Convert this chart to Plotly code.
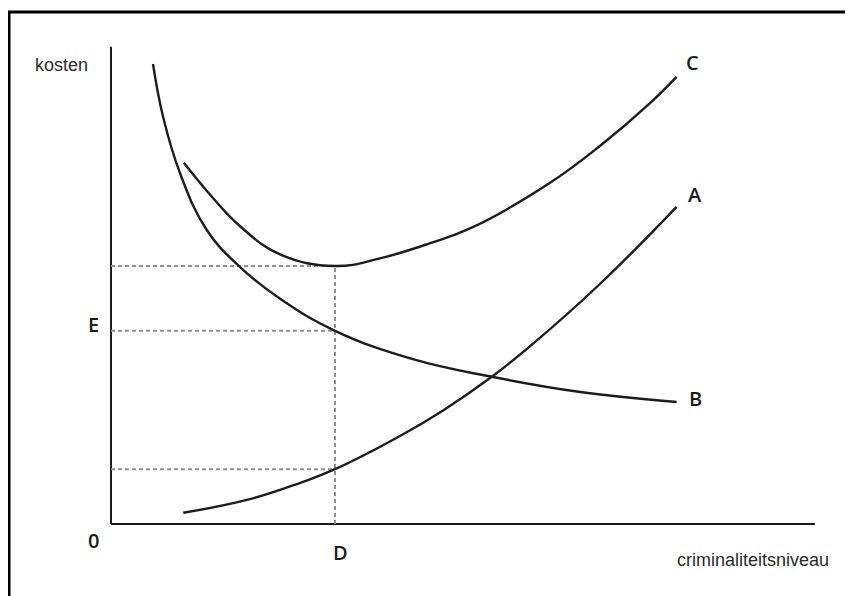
import plotly.graph_objects as go

# ---- data ----
# curve B: decreasing cost curve
B_x = [0.75, 0.93, 1.23, 1.71, 2.30, 3.02, 4.00, 5.39, 6.80, 8.38, 10.10]
B_y = [11.50, 10.18, 8.78, 7.35, 6.43, 5.63, 4.83, 4.12, 3.68, 3.30, 3.05]
# curve A: increasing cost curve
A_x = [1.29, 2.48, 3.38, 4.00, 5.16, 5.93, 6.80, 7.48, 8.73, 10.10]
A_y = [0.28, 0.62, 1.03, 1.37, 2.20, 2.84, 3.68, 4.44, 6.00, 7.93]
# curve C: total cost curve (U-shape)
C_x = [1.30, 1.82, 2.30, 3.02, 4.00, 4.80, 5.70, 6.46, 7.84, 8.73, 9.63, 10.10]
C_y = [9.03, 8.15, 7.45, 6.74, 6.45, 6.64, 7.02, 7.42, 8.53, 9.45, 10.53, 11.18]

D_x = 4.0                           # criminality level D
guide_levels = [6.45, 4.83, 1.37]   # C minimum, E (B at D), A at D

x_max = 12.57   # end of horizontal axis
y_max = 11.93   # top of vertical axis

curve_labels = ["C", "A", "B"]

fig = go.Figure()

ink = "#1c1c1c"
line_style = dict(color=ink, width=2.4, shape="spline", smoothing=1.2)
guide_style = dict(color="#8f8f8f", width=2, dash="4px,3px")

# axes drawn as lines from the origin
fig.add_trace(go.Scatter(x=[0, x_max], y=[0, 0], mode="lines",
                         line=dict(color=ink, width=2), hoverinfo="skip", showlegend=False))
fig.add_trace(go.Scatter(x=[0, 0], y=[0, y_max], mode="lines",
                         line=dict(color=ink, width=2), hoverinfo="skip", showlegend=False))

# dashed guide lines
for lv in guide_levels:
    fig.add_trace(go.Scatter(x=[0, D_x], y=[lv, lv], mode="lines", line=guide_style,
                             hoverinfo="skip", showlegend=False))
fig.add_trace(go.Scatter(x=[D_x, D_x], y=[0, max(guide_levels)], mode="lines",
                         line=guide_style, hoverinfo="skip", showlegend=False))

for xs, ys, nm in [(B_x, B_y, "B"), (A_x, A_y, "A"), (C_x, C_y, "C")]:
    fig.add_trace(go.Scatter(x=xs, y=ys, mode="lines", line=line_style,
                             name=nm, showlegend=False, hoverinfo="skip"))

lab_font = dict(family="Open Sans", size=20, color="#1a1a1a", weight=600)
narrow_font = dict(family="Liberation Sans Narrow, Liberation Sans, sans-serif",
                   size=18, color="#2a2a2a")

# end-of-curve labels
ends = {"C": (C_x[-1], C_y[-1]), "A": (A_x[-1], A_y[-1]), "B": (B_x[-1], B_y[-1])}
offsets = {"C": (0.29, 0.36), "A": (0.33, 0.30), "B": (0.33, 0.08)}
for lab in curve_labels:
    ex, ey = ends[lab]
    dx, dy = offsets[lab]
    fig.add_annotation(x=ex + dx, y=ey + dy, text=lab, showarrow=False,
                       font=lab_font, xanchor="center", yanchor="middle")

fig.add_annotation(x=-0.32, y=guide_levels[1] + 0.15, text="E", showarrow=False,
                   font=lab_font, xanchor="center", yanchor="middle")
fig.add_annotation(x=-0.32, y=-0.40, text="0", showarrow=False,
                   font=lab_font, xanchor="center", yanchor="middle")
fig.add_annotation(x=D_x + 0.09, y=-0.70, text="D", showarrow=False,
                   font=lab_font, xanchor="center", yanchor="middle")
fig.add_annotation(x=-0.89, y=11.48, text="kosten", showarrow=False,
                   font=narrow_font, xanchor="center", yanchor="middle")
fig.add_annotation(x=11.46, y=-0.90, text="criminaliteitsniveau", showarrow=False,
                   font=narrow_font, xanchor="center", yanchor="middle")

# outer picture frame (left and top edges)
fig.add_shape(type="path", xref="x", yref="y",
              path="M -1.821,-2 L -1.821,12.8 L 14,12.8",
              line=dict(color="black", width=3))

fig.update_xaxes(range=[-1.8393, 13.25], visible=False)
fig.update_yaxes(range=[-1.8, 12.9], visible=False)

fig.update_layout(width=845, height=588,
                  margin=dict(l=0, r=0, t=0, b=0),
                  plot_bgcolor="white", paper_bgcolor="white")

fig.write_html("out.html")
